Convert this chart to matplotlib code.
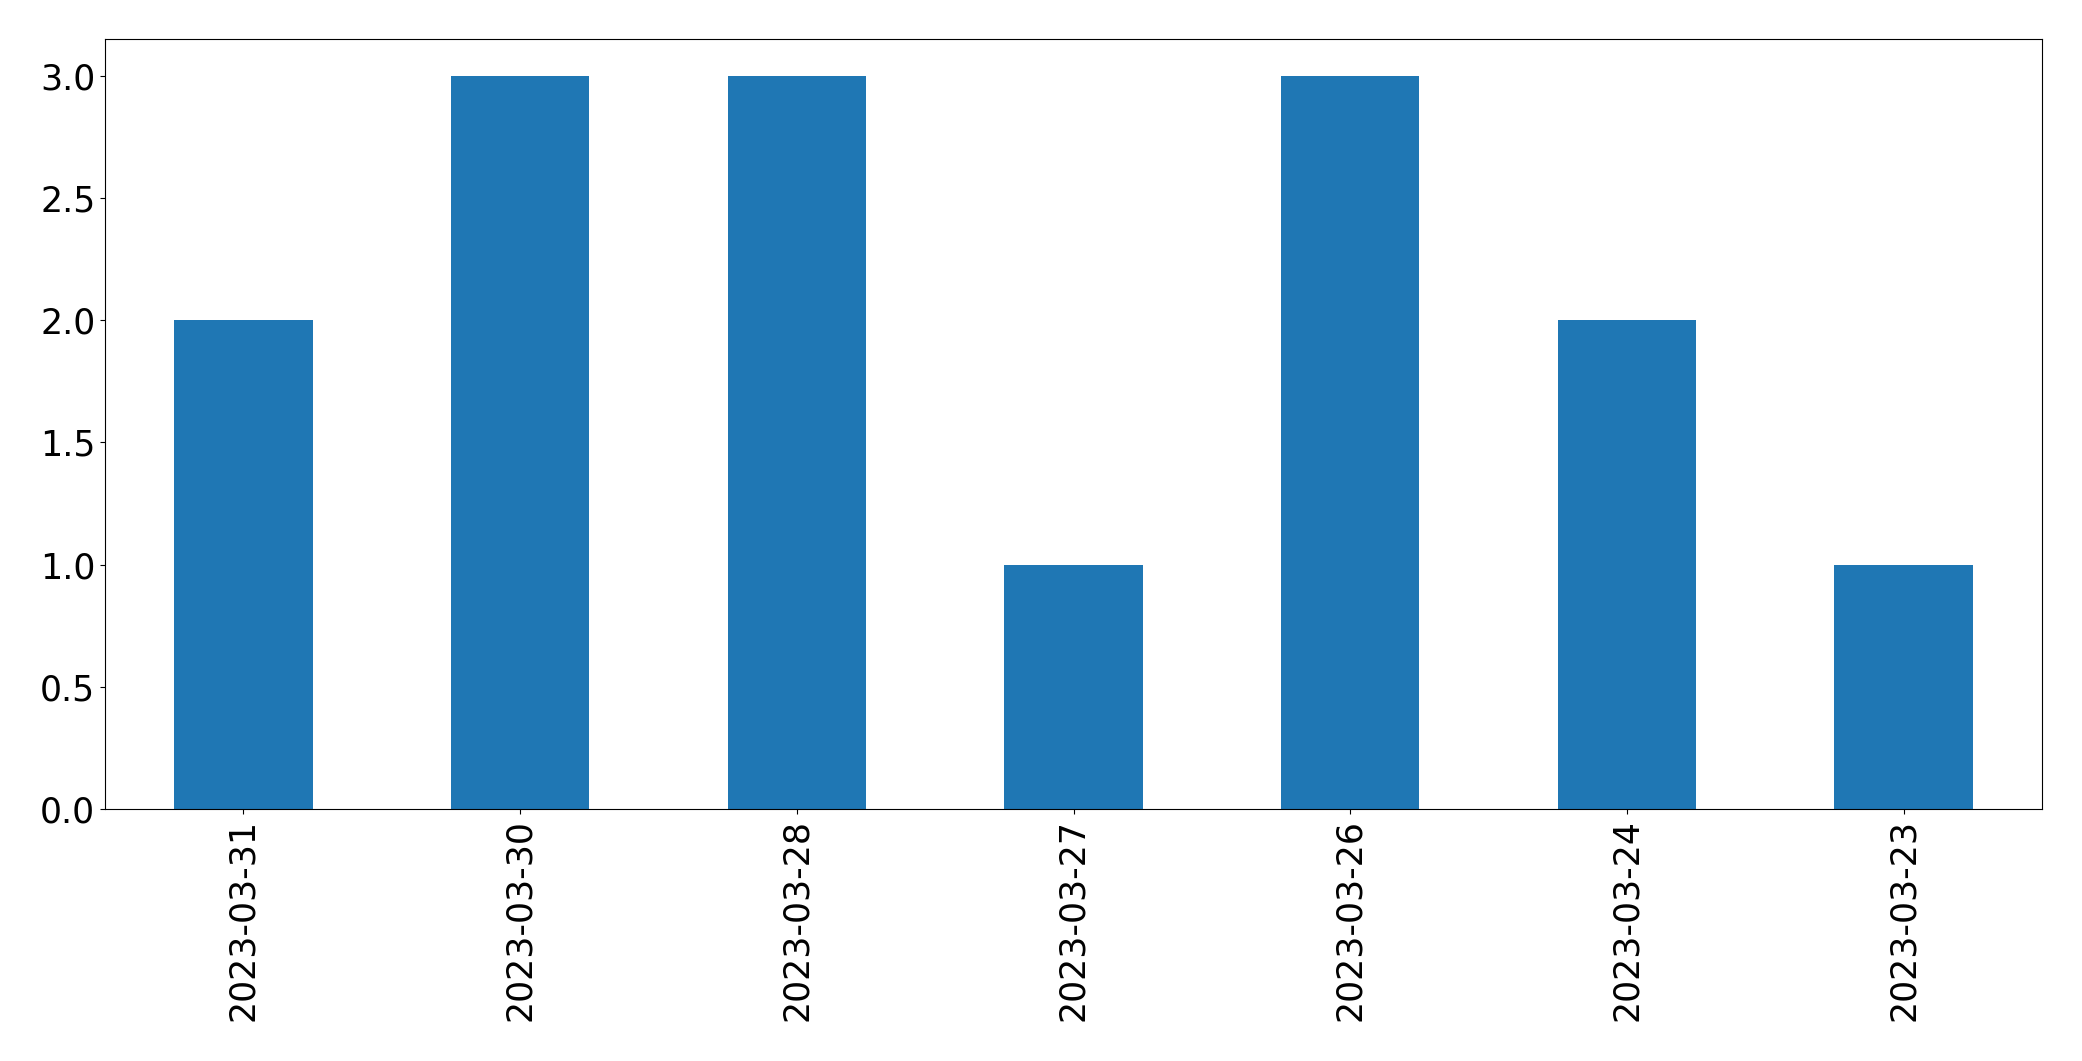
import matplotlib
matplotlib.use("Agg")
import matplotlib.pyplot as plt

dates = ["2023-03-31", "2023-03-30", "2023-03-28", "2023-03-27",
         "2023-03-26", "2023-03-24", "2023-03-23"]
counts = [2, 3, 3, 1, 3, 2, 1]

fig = plt.figure(figsize=(20.82, 10.61), dpi=100)
ax = fig.add_axes([105 / 2082, 1 - 809 / 1061, (2042 - 105) / 2082, (809 - 39) / 1061])

xs = list(range(len(dates)))
ax.bar(xs, counts, width=0.5, color="#1f77b4")
ax.set_xlim(-0.5, len(dates) - 0.5)
ax.set_ylim(0, 3.15)
ax.set_xticks(xs)
ax.set_xticklabels(dates, rotation=90)
ax.tick_params(labelsize=25)

fig.savefig("out.png", dpi=100)
plt.close(fig)
